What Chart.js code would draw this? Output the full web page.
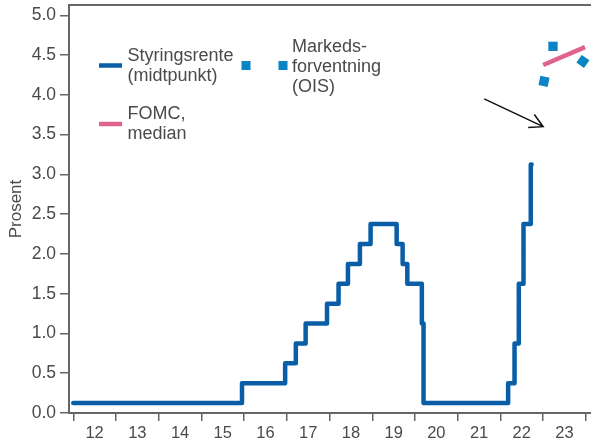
<!DOCTYPE html>
<html>
<head>
<meta charset="utf-8">
<script src="https://cdn.jsdelivr.net/npm/chart.js@4/dist/chart.umd.min.js"></script>
<style>
  html, body { margin: 0; padding: 0; background: #fff; }
  #wrap { width: 591px; height: 448px; }
</style>
</head>
<body>
<div id="wrap"><canvas id="chart" width="591" height="448"></canvas></div>
<script>
// Styringsrente (midtpunkt), dato som desimalår
const rateDates = [2012.0, 2015.95, 2016.96, 2017.21, 2017.44, 2017.94, 2018.21, 2018.43, 2018.71, 2018.96,
                   2019.57, 2019.71, 2019.82, 2020.16, 2020.2, 2022.18, 2022.33, 2022.43, 2022.54, 2022.71, 2022.73];
const rateValues = [0.125, 0.375, 0.625, 0.875, 1.125, 1.375, 1.625, 1.875, 2.125, 2.375,
                    2.125, 1.875, 1.625, 1.125, 0.125, 0.375, 0.875, 1.625, 2.375, 3.125, 3.125];

// Markedsforventning (OIS)
const oisDates = [2023.02, 2023.23, 2023.93];
const oisValues = [4.17, 4.61, 4.42];

// FOMC, median
const fomcDates = [2023.0, 2023.98];
const fomcValues = [4.375, 4.6];

// pil
const arrowFrom = [2021.62, 3.95];
const arrowTo = [2023.0, 3.6];

const yearTicks = [2012, 2013, 2014, 2015, 2016, 2017, 2018, 2019, 2020, 2021, 2022, 2023, 2024];
const yTicks = [0, 0.5, 1, 1.5, 2, 2.5, 3, 3.5, 4, 4.5, 5];

const FONT = '"Liberation Sans", Arial, sans-serif';
const TEXT = '#4a4a4a';
const AXIS = '#666666';
const BLUE = '#0a5ea8';
const OIS_BLUE = '#0a84c4';
const PINK = '#e0628f';

function pts(xs, ys) {
    return xs.map((x, i) => ({ x: x, y: ys[i] }));
}

const extras = {
    id: 'extras',
    afterDraw(c) {
        const ctx = c.ctx;
        const a = c.chartArea;
        const x = c.scales.x, y = c.scales.y;
        ctx.save();

        // top frame line
        ctx.strokeStyle = AXIS;
        ctx.lineWidth = 2;
        ctx.beginPath();
        ctx.moveTo(a.left, a.top);
        ctx.lineTo(a.right, a.top);
        ctx.stroke();

        // arrow
        const x0 = x.getPixelForValue(arrowFrom[0]), y0 = y.getPixelForValue(arrowFrom[1]);
        const x1 = x.getPixelForValue(arrowTo[0]), y1 = y.getPixelForValue(arrowTo[1]);
        const ang = Math.atan2(y1 - y0, x1 - x0);
        ctx.strokeStyle = '#111';
        ctx.lineWidth = 1.5;
        ctx.beginPath();
        ctx.moveTo(x0, y0);
        ctx.lineTo(x1, y1);
        ctx.moveTo(x1 - 15 * Math.cos(ang - 0.5), y1 - 15 * Math.sin(ang - 0.5));
        ctx.lineTo(x1, y1);
        ctx.lineTo(x1 - 15 * Math.cos(ang + 0.5), y1 - 15 * Math.sin(ang + 0.5));
        ctx.stroke();

        // legend
        const lx = a.left, ty = a.top;
        ctx.lineWidth = 4.5;
        ctx.strokeStyle = BLUE;
        ctx.beginPath();
        ctx.moveTo(lx + 30, ty + 60.5);
        ctx.lineTo(lx + 53, ty + 60.5);
        ctx.stroke();
        ctx.strokeStyle = PINK;
        ctx.beginPath();
        ctx.moveTo(lx + 30, ty + 119);
        ctx.lineTo(lx + 53, ty + 119);
        ctx.stroke();

        ctx.fillStyle = OIS_BLUE;
        ctx.fillRect(lx + 172.5, ty + 56, 9, 9);
        ctx.fillRect(lx + 209.5, ty + 56, 9, 9);

        ctx.fillStyle = TEXT;
        ctx.font = '18px ' + FONT;
        ctx.textBaseline = 'alphabetic';
        ctx.fillText('Styringsrente', lx + 58.5, ty + 56.2);
        ctx.fillText('(midtpunkt)', lx + 58.5, ty + 76.2);
        ctx.fillText('Markeds-', lx + 223, ty + 47);
        ctx.fillText('forventning', lx + 223, ty + 67);
        ctx.fillText('(OIS)', lx + 223, ty + 87);
        ctx.fillText('FOMC,', lx + 58.5, ty + 114.2);
        ctx.fillText('median', lx + 58.5, ty + 134.2);

        ctx.restore();
    }
};

new Chart(document.getElementById('chart'), {
    type: 'line',
    data: {
        datasets: [
            {
                label: 'Styringsrente (midtpunkt)',
                data: pts(rateDates, rateValues),
                borderColor: BLUE,
                borderWidth: 4.5,
                stepped: true,
                pointRadius: 0,
                borderCapStyle: 'round',
                borderJoinStyle: 'round',
                fill: false
            },
            {
                label: 'FOMC, median',
                data: pts(fomcDates, fomcValues),
                borderColor: PINK,
                borderWidth: 4.5,
                pointRadius: 0,
                fill: false
            },
            {
                label: 'Markedsforventning (OIS)',
                data: pts(oisDates, oisValues),
                showLine: false,
                pointStyle: 'rect',
                pointRadius: 6.6,
                pointRotation: [12, 0, 35],
                pointBackgroundColor: OIS_BLUE,
                pointBorderWidth: 0,
                pointBorderColor: OIS_BLUE
            }
        ]
    },
    options: {
        responsive: false,
        animation: false,
        events: [],
        layout: { autoPadding: false, padding: { top: 5, right: 0, left: 0, bottom: 0 } },
        plugins: {
            legend: { display: false },
            tooltip: { enabled: false }
        },
        scales: {
            x: {
                type: 'linear',
                min: 2011.9,
                max: 2024.12,
                afterBuildTicks: s => { s.ticks = yearTicks.map(v => ({ value: v })); },
                afterFit: s => { s.height = 35; s.paddingLeft = 0; s.paddingRight = 0; },
                border: { display: true, color: AXIS, width: 2 },
                grid: { drawOnChartArea: false, drawTicks: true, tickLength: 8, color: AXIS, lineWidth: 1.5 },
                ticks: {
                    autoSkip: false,
                    maxRotation: 0,
                    labelOffset: 21.35,
                    padding: 3,
                    color: TEXT,
                    font: { family: FONT, size: 16.5 },
                    callback: v => (v < 2024 ? String(v).slice(2) : '')
                }
            },
            y: {
                min: 0,
                max: 5.13,
                afterBuildTicks: s => { s.ticks = yTicks.map(v => ({ value: v })); },
                afterFit: s => { s.width = 69; s.paddingTop = 0; s.paddingBottom = 0; },
                border: { display: true, color: AXIS, width: 2 },
                grid: { drawOnChartArea: false, drawTicks: true, tickLength: 9, color: AXIS, lineWidth: 1.5 },
                title: {
                    display: true,
                    text: 'Prosent',
                    color: TEXT,
                    font: { family: FONT, size: 17 },
                    padding: { top: 6, bottom: 0 }
                },
                ticks: {
                    padding: 4,
                    color: TEXT,
                    font: { family: FONT, size: 17.5 },
                    callback: v => v.toFixed(1)
                }
            }
        }
    },
    plugins: [extras]
});
</script>
</body>
</html>
